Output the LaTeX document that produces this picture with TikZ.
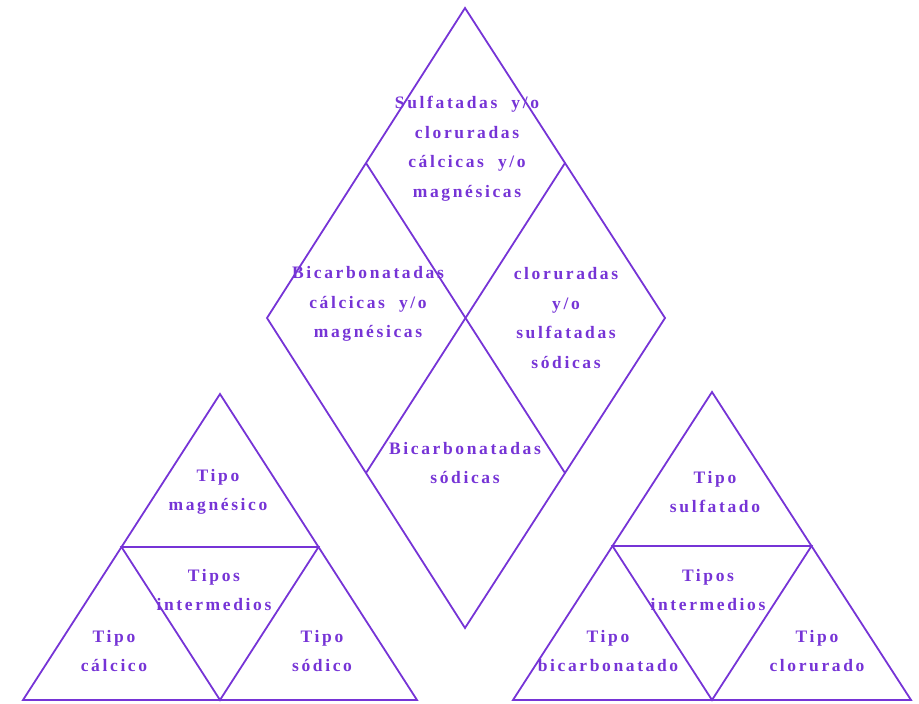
\documentclass[tikz,border=0pt]{standalone}
\usepackage{fontspec}
\newfontfamily\lblfont{Liberation Serif}[LetterSpace=15]
\usepackage{tikz}
\usetikzlibrary{calc}
\definecolor{violeta}{RGB}{118,52,214}

\begin{document}
\begin{tikzpicture} [x=1pt, y=-1pt,
	edge/.style={draw=violeta, line width=1.8pt, line join=miter},
	lbl/.style={text=violeta, align=center, inner sep=0pt,
		font=\lblfont\bfseries\fontsize{17.5}{29.5}\selectfont}]
	\useasboundingbox (0,0) rectangle (919,704);
	
	% rombo
	\coordinate (top) at (465,8);
	\coordinate (left) at (267,318);
	\coordinate (right) at (665,318);
	\coordinate (bottom) at (465,628);
	\draw[edge] (top) -- (right) -- (bottom) -- (left) -- cycle;
	\draw[edge] ($(top)!0.5!(left)$) -- ($(right)!0.5!(bottom)$);
	\draw[edge] ($(top)!0.5!(right)$) -- ($(left)!0.5!(bottom)$);
	
	% triangulo izquierdo
	\coordinate (la) at (220,394);
	\coordinate (lb) at (23,700);
	\coordinate (lc) at (417,700);
	\draw[edge] (la) -- (lc) -- (lb) -- cycle;
	\draw[edge] ($(la)!0.5!(lb)$) -- ($(la)!0.5!(lc)$) -- ($(lb)!0.5!(lc)$) -- cycle;
	
	% triangulo derecho
	\coordinate (ra) at (712,392);
	\coordinate (rb) at (513,700);
	\coordinate (rc) at (911,700);
	\draw[edge] (ra) -- (rc) -- (rb) -- cycle;
	\draw[edge] ($(ra)!0.5!(rb)$) -- ($(ra)!0.5!(rc)$) -- ($(rb)!0.5!(rc)$) -- cycle;
	
	\node[lbl] (sulf) at (467,149) {Sulfatadas~ y/o\\cloruradas\\cálcicas~ y/o\\magnésicas};
	\node[lbl] (bicca) at (368,304) {Bicarbonatadas\\cálcicas~ y/o\\magnésicas};
	\node[lbl] (clorna) at (566,318) {cloruradas\\y/o\\sulfatadas\\sódicas};
	\node[lbl] (bicna) at (465,463) {Bicarbonatadas\\sódicas};
	
	\node[lbl] (mg) at (218,492) {Tipo\\magnésico};
	\node[lbl] (intl) at (214,590) {Tipos\\intermedios};
	\node[lbl] (ca) at (114,651) {Tipo\\cálcico};
	\node[lbl] (na) at (322,651) {Tipo\\sódico};
	
	\node[lbl] (so) at (715,492) {Tipo\\sulfatado};
	\node[lbl] (intr) at (708,590) {Tipos\\intermedios};
	\node[lbl] (hco) at (608,651) {Tipo\\bicarbonatado};
	\node[lbl] (cl) at (817,651) {Tipo\\clorurado};
	
\end{tikzpicture}
\end{document}
